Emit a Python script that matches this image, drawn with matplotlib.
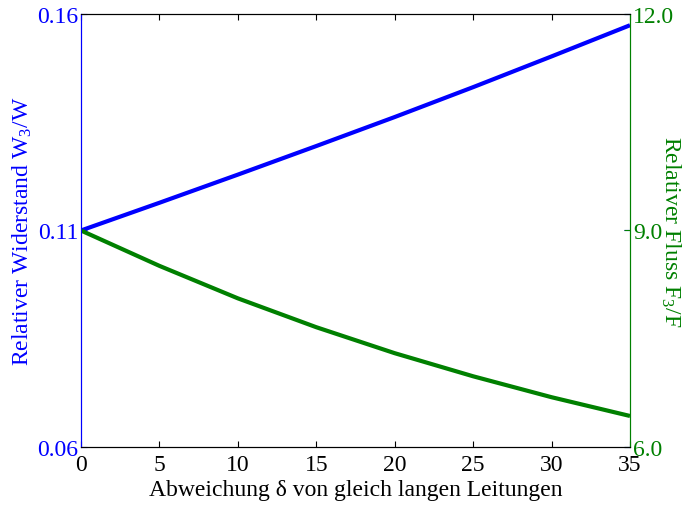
import matplotlib
matplotlib.use("Agg")
import matplotlib.pyplot as plt

plt.rcParams['font.family'] = ['Liberation Serif', 'DejaVu Serif']
plt.rcParams['mathtext.fontset'] = 'custom'
plt.rcParams['mathtext.rm'] = 'Liberation Serif'
plt.rcParams['mathtext.default'] = 'regular'

delta = [0, 5, 10, 15, 20, 25, 30, 35]
widerstand = [0.1100, 0.1164, 0.1229, 0.1295, 0.1362, 0.1431, 0.1502, 0.1574]
fluss = [9.00, 8.51, 8.06, 7.66, 7.30, 6.98, 6.69, 6.43]

xticks = [0, 5, 10, 15, 20, 25, 30, 35]
yticks_left = [0.06, 0.11, 0.16]
yticks_right = [6.0, 9.0, 12.0]

blue = '#0000ff'
green = '#008000'

fig = plt.figure(figsize=(6.85, 5.06), dpi=100)
ax1 = fig.add_axes([0.1182, 0.1146, 0.8015, 0.8558])
ax2 = ax1.twinx()

ax1.plot(delta, widerstand, color=blue, lw=3.0, solid_capstyle='butt')
ax2.plot(delta, fluss, color=green, lw=3.0, solid_capstyle='butt')

ax1.set_xlim(0, 35)
ax1.set_ylim(0.06, 0.16)
ax2.set_ylim(6.0, 12.0)

ax1.set_xticks(xticks)
ax1.set_xticklabels([str(t) for t in xticks])
ax1.set_yticks(yticks_left)
ax1.set_yticklabels(['%.2f' % t for t in yticks_left])
ax2.set_yticks(yticks_right)
ax2.set_yticklabels(['%.1f' % t for t in yticks_right])

fs = 17
ax1.tick_params(axis='x', direction='in', top=True, length=4, width=0.8,
                labelsize=fs, pad=5, colors='black')
ax1.tick_params(axis='y', direction='in', right=True, length=4, width=0.8,
                labelsize=fs, colors=blue, pad=2)
ax2.tick_params(axis='y', direction='in', length=4, width=0.8,
                labelsize=fs, colors=green, pad=2)

for ax in (ax1, ax2):
    ax.spines['top'].set_color('black')
    ax.spines['bottom'].set_color('black')
    ax.spines['left'].set_color(blue)
    ax.spines['right'].set_color(green)

ax1.set_xlabel('Abweichung δ von gleich langen Leitungen', fontsize=fs, labelpad=3)
ax1.set_ylabel('Relativer Widerstand W$_3$/W', fontsize=fs, color=blue, labelpad=2)
ax2.set_ylabel('Relativer Fluss F$_3$/F', fontsize=fs, color=green,
               rotation=270, va='center', ha='center')
ax2.yaxis.set_label_coords(1.0745, 0.5)

fig.savefig('out.png', dpi=100)
